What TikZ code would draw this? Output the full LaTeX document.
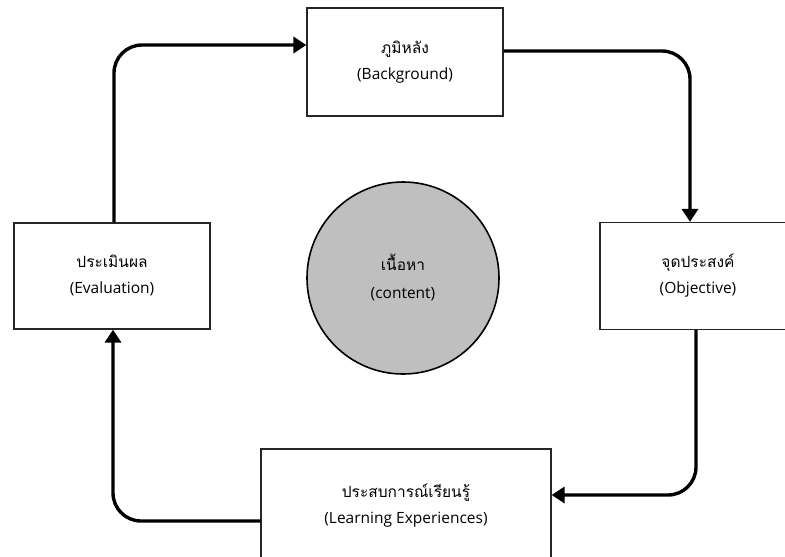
\documentclass[tikz,border=0pt]{standalone}
\usepackage{fontspec}
\setmainfont{Open Sans}
\newfontfamily\thai[Script=Thai]{Loma}
\usetikzlibrary{arrows.meta}
\begin{document}
\begin{tikzpicture}[x=1pt,y=-1pt,
  stagebox/.style={draw=black!85, line width=1.2pt, fill=white, inner sep=0pt,
    font=\fontsize{15.5}{26}\selectfont, align=center},
  flow/.style={line width=3.4pt, rounded corners=28pt, -{Triangle[length=13pt,width=16pt]}}]
\useasboundingbox (0,0) rectangle (785,557);
% stage boxes
\node[stagebox, minimum width=196pt, minimum height=108pt] (bg) at (405,62) {{\thai ภูมิหลัง}\\(Background)};
\node[stagebox, minimum width=196pt, minimum height=107pt] (obj) at (698,276) {{\thai จุดประสงค์}\\(Objective)};
\node[stagebox, minimum width=290pt, minimum height=114pt] (learn) at (406,506) {{\thai ประสบการณ์เรียนรู้}\\(Learning Experiences)};
\node[stagebox, minimum width=196pt, minimum height=106pt] (eval) at (112,276) {{\thai ประเมินผล}\\(Evaluation)};
% content in the middle
\node[circle, draw=black, line width=1.6pt, fill=black!25, minimum size=192pt, inner sep=0pt,
  font=\fontsize{15.5}{28}\selectfont, align=center] (content) at (403,278) {{\thai เนื้อหา}\\(content)};
% cycle connectors
\coordinate (c1) at (690,51);
\coordinate (c2) at (696,495);
\coordinate (c3) at (113,521);
\coordinate (c4) at (114,45);
\draw[flow] (bg.east |- c1) -- (c1) -- (c1 |- obj.north);
\draw[flow] (c2 |- obj.south) -- (c2) -- (learn.east |- c2);
\draw[flow] (learn.west |- c3) -- (c3) -- (c3 |- eval.south);
\draw[flow] (c4 |- eval.north) -- (c4) -- (bg.west |- c4);
\end{tikzpicture}
\end{document}
